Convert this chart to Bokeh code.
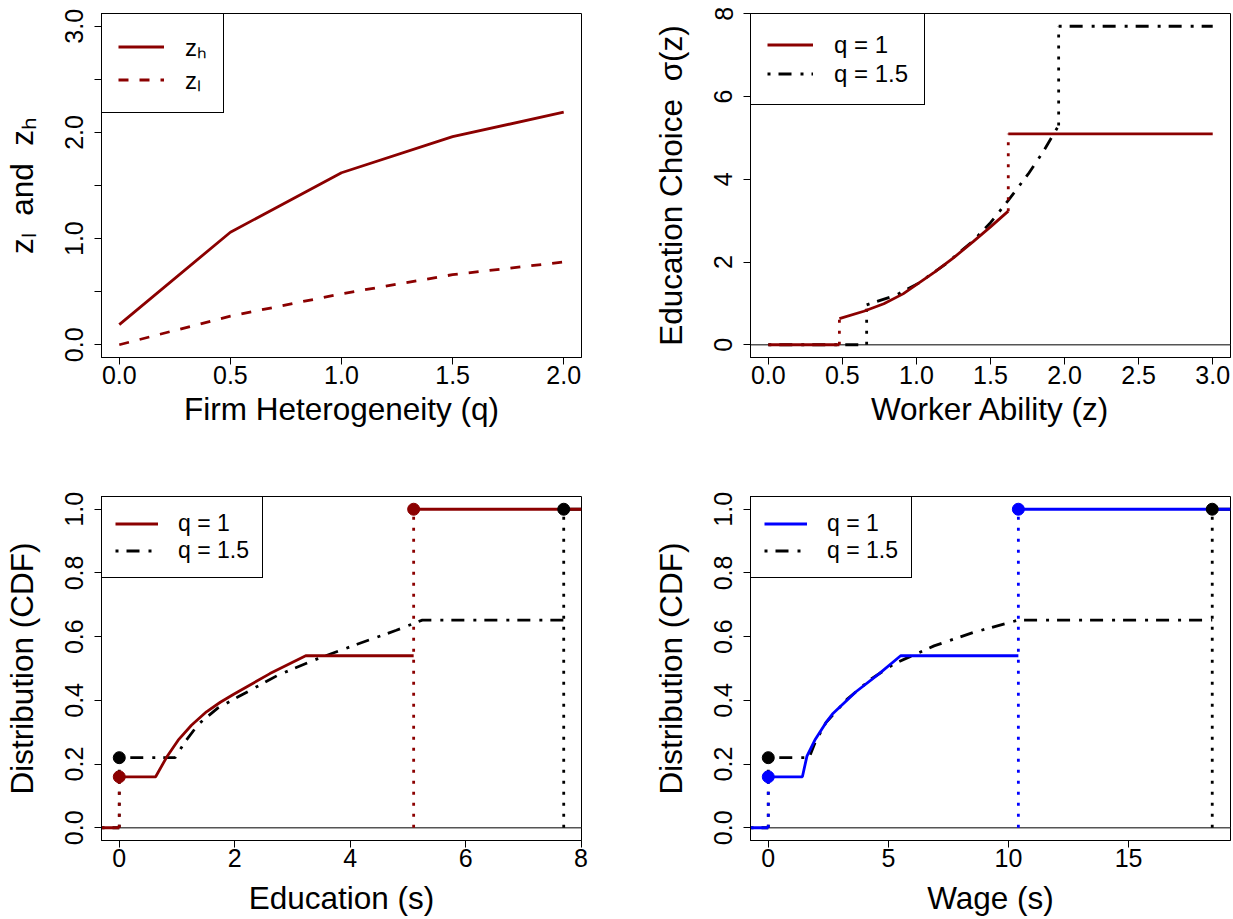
from bokeh.plotting import figure
from bokeh.models import Range1d, FixedTicker, Span, Legend, LegendItem, PrintfTickFormatter
from bokeh.layouts import column, row
from bokeh.embed import file_html
from bokeh.resources import INLINE

# ---------------- data ----------------
# Panel 1: thresholds vs firm heterogeneity
q_grid = [0.0, 0.5, 1.0, 1.5, 2.0]
z_high = [0.19, 1.06, 1.62, 1.96, 2.19]
z_low = [0.00, 0.27, 0.48, 0.66, 0.78]

# Panel 2: education choice sigma(z)
z_max = 3.0
zl_q1, zh_q1, smax_q1 = 0.48, 1.62, 5.10
zl_q15, zh_q15, smax_q15 = 0.664, 1.96, 7.70
sig_z_q1 = [0.48, 0.645, 0.78, 0.91, 1.12, 1.25, 1.385, 1.50, 1.62]
sig_s_q1 = [0.63, 0.81, 0.99, 1.23, 1.75, 2.10, 2.50, 2.85, 3.23]
sig_z_q15 = [0.664, 0.857, 1.015, 1.20, 1.385, 1.50, 1.62, 1.755, 1.86, 1.96]
sig_s_q15 = [0.966, 1.19, 1.49, 1.96, 2.52, 2.95, 3.49, 4.13, 4.69, 5.30]

# Panel 3: CDF of education
F0_q1, F0_q15 = 0.16, 0.22
edu_q1 = [0.63, 0.825, 1.02, 1.25, 1.51, 1.75, 1.99, 2.61, 3.23]
cdf_edu_q1 = [0.16, 0.223, 0.275, 0.322, 0.364, 0.394, 0.420, 0.484, 0.540]
edu_q15 = [0.966, 1.14, 1.37, 1.70, 2.06, 2.75, 3.44, 4.12, 4.80, 5.25]
cdf_edu_q15 = [0.22, 0.270, 0.325, 0.375, 0.411, 0.479, 0.531, 0.576, 0.620, 0.652]

# Panel 4: CDF of wages
wmax_q1, wmax_q15 = 10.41, 18.48
wage_q1 = [1.42, 1.61, 1.96, 2.40, 2.67, 3.65, 4.62, 5.51]
cdf_wage_q1 = [0.16, 0.225, 0.278, 0.330, 0.357, 0.427, 0.484, 0.540]
wage_q15 = [1.70, 1.96, 2.40, 3.30, 4.30, 5.27, 6.90, 8.53, 10.41]
cdf_wage_q15 = [0.22, 0.270, 0.330, 0.405, 0.468, 0.516, 0.571, 0.613, 0.652]

# ---------------- style ----------------
FONT = "Liberation Sans"
DARKRED = "#8B0000"
BLUE = "#0000FF"
BLACK = "#000000"
LW = 2.8
DOTDASH = "3 8 13 9"
DOTTED = "3 8"
DASHED = "10 11"
FW, FH = 480, 344
NB = "\u00a0"


def make_fig(xr, yr, ml, mr, mt, mb, xlab, ylab, xticks, xfmt, yticks, yfmt,
             x_title_standoff, yminor=None):
    p = figure(x_range=Range1d(*xr), y_range=Range1d(*yr), frame_width=FW, frame_height=FH,
               min_border_left=ml, min_border_right=mr, min_border_top=mt, min_border_bottom=mb,
               output_backend="svg", toolbar_location=None, title=None)
    p.xgrid.visible = False
    p.ygrid.visible = False
    p.outline_line_color = "black"
    p.outline_line_width = 1
    p.outline_line_alpha = 1
    p.background_fill_color = "white"
    p.border_fill_color = "white"
    for ax in (p.xaxis[0], p.yaxis[0]):
        ax.axis_line_color = "black"
        ax.major_tick_line_color = "black"
        ax.major_tick_out = 7
        ax.major_tick_in = 0
        ax.minor_tick_out = 7
        ax.minor_tick_in = 0
        ax.minor_tick_line_color = "black"
        ax.major_label_text_font = FONT
        ax.major_label_text_font_size = "25px"
        ax.major_label_text_color = "black"
        ax.axis_label_text_font = FONT
        ax.axis_label_text_font_size = "31.5px"
        ax.axis_label_text_font_style = "normal"
        ax.axis_label_text_color = "black"
    p.xaxis.ticker = FixedTicker(ticks=xticks, minor_ticks=[])
    p.xaxis.formatter = PrintfTickFormatter(format=xfmt)
    p.yaxis.ticker = FixedTicker(ticks=yticks, minor_ticks=yminor or [])
    p.yaxis.formatter = PrintfTickFormatter(format=yfmt)
    p.yaxis.major_label_orientation = "vertical"
    p.xaxis.major_label_standoff = 1
    p.yaxis.major_label_standoff = 11
    p.xaxis.axis_label_standoff = x_title_standoff
    p.yaxis.axis_label_standoff = 23
    p.xaxis.axis_label = xlab
    p.yaxis.axis_label = ylab
    return p


def add_legend(p, items, pad, glyph_w, standoff, fsize, h):
    leg = Legend(items=[LegendItem(label=lab, renderers=[r]) for lab, r in items],
                 location="top_left", margin=0, padding=pad, spacing=0,
                 glyph_width=glyph_w, glyph_height=h, label_height=h, label_standoff=standoff,
                 label_text_font=FONT, label_text_font_size=fsize, label_text_color="black",
                 border_line_color="black", border_line_width=1, border_line_alpha=1,
                 background_fill_color="white", background_fill_alpha=1)
    p.add_layout(leg)


def zero_line(p):
    p.add_layout(Span(location=0, dimension="width", line_color="#555555", line_width=1.3,
                      level="underlay"))


# ---------------- panel 1 ----------------
x1 = (-0.08, 2.08)
y1 = (-0.12, 3.12)
p1 = make_fig(x1, y1, 101, 67, 13, 113, "Firm Heterogeneity (q)",
              "zₗ" + NB + NB + "and" + NB + NB + "zₕ",
              [0, 0.5, 1.0, 1.5, 2.0], "%.1f", [0, 1, 2, 3], "%.1f", 4,
              yminor=[0.5, 1.5, 2.5])
r_zh = p1.line(q_grid, z_high, line_color=DARKRED, line_width=LW)
r_zl = p1.line(q_grid, z_low, line_color=DARKRED, line_width=LW, line_dash=DASHED)
add_legend(p1, [("zₕ", r_zh), ("zₗ", r_zl)], 16, 46, 21, "24px", 29)

# ---------------- panel 2 ----------------
x2 = (-0.12, 3.12)
y2 = (-0.308, 8.008)
p2 = make_fig(x2, y2, 102, 2, 13, 113, "Worker Ability (z)",
              "Education Choice" + NB + NB + "σ(z)",
              [0, 0.5, 1.0, 1.5, 2.0, 2.5, 3.0], "%.1f", [0, 2, 4, 6, 8], "%d", 4)
zero_line(p2)
# q = 1.5 (black)
p2.line([0, zl_q15], [0, 0], line_color=BLACK, line_width=LW, line_dash=DOTDASH)
p2.line([zl_q15, zl_q15], [0, sig_s_q15[0]], line_color=BLACK, line_width=LW, line_dash=DOTTED)
r2b = p2.line(sig_z_q15, sig_s_q15, line_color=BLACK, line_width=LW, line_dash=DOTDASH)
p2.line([zh_q15, zh_q15], [sig_s_q15[-1], smax_q15], line_color=BLACK, line_width=LW, line_dash=DOTTED)
p2.line([zh_q15, z_max], [smax_q15, smax_q15], line_color=BLACK, line_width=LW, line_dash=DOTDASH)
# q = 1 (dark red)
p2.line([0, zl_q1], [0, 0], line_color=DARKRED, line_width=LW)
p2.line([zl_q1, zl_q1], [0, sig_s_q1[0]], line_color=DARKRED, line_width=LW, line_dash=DOTTED)
r2r = p2.line(sig_z_q1, sig_s_q1, line_color=DARKRED, line_width=LW)
p2.line([zh_q1, zh_q1], [sig_s_q1[-1], smax_q1], line_color=DARKRED, line_width=LW, line_dash=DOTTED)
p2.line([zh_q1, z_max], [smax_q1, smax_q1], line_color=DARKRED, line_width=LW)
add_legend(p2, [("q = 1", r2r), ("q = 1.5", r2b)], 16, 46, 21, "24px", 29)


# ---------------- CDF panels ----------------
def cdf_panel(p, xr, F0_a, xs_a, Fs_a, top_a, col_a, F0_b, xs_b, Fs_b, top_b):
    lo, hi = xr
    # q = 1.5 (black)
    p.line([lo, 0], [0, 0], line_color=BLACK, line_width=LW, line_dash=DOTDASH)
    p.line([0, 0], [0, F0_b], line_color=BLACK, line_width=LW, line_dash=DOTTED)
    rb = p.line([0] + xs_b + [top_b], [F0_b] + Fs_b + [Fs_b[-1]], line_color=BLACK,
                line_width=LW, line_dash=DOTDASH)
    p.line([top_b, top_b], [0, 1], line_color=BLACK, line_width=LW, line_dash=DOTTED)
    p.line([top_b, hi], [1, 1], line_color=BLACK, line_width=LW)
    # q = 1 (coloured)
    p.line([lo, 0], [0, 0], line_color=col_a, line_width=LW)
    p.line([0, 0], [0, F0_a], line_color=col_a, line_width=LW, line_dash=DOTTED)
    ra = p.line([0] + xs_a + [top_a], [F0_a] + Fs_a + [Fs_a[-1]], line_color=col_a, line_width=LW)
    p.line([top_a, top_a], [0, 1], line_color=col_a, line_width=LW, line_dash=DOTTED)
    p.line([top_a, hi], [1, 1], line_color=col_a, line_width=LW)
    p.scatter([0, top_b], [F0_b, 1], size=12, color=BLACK)
    p.scatter([0, top_a], [F0_a, 1], size=12, color=col_a)
    return ra, rb


ycdf = (-0.04, 1.04)
cdf_ticks = [0, 0.2, 0.4, 0.6, 0.8, 1.0]

x3 = (-0.308, 8.008)
p3 = make_fig(x3, ycdf, 101, 67, 26, 78, "Education (s)", "Distribution (CDF)",
              [0, 2, 4, 6, 8], "%d", cdf_ticks, "%.1f", 10)
zero_line(p3)
ra3, rb3 = cdf_panel(p3, x3, F0_q1, edu_q1, cdf_edu_q1, smax_q1, DARKRED,
                     F0_q15, edu_q15, cdf_edu_q15, smax_q15)
add_legend(p3, [("q = 1", ra3), ("q = 1.5", rb3)], 13, 43, 20, "23px", 27)

x4 = (-0.74, 19.24)
p4 = make_fig(x4, ycdf, 102, 2, 26, 78, "Wage (s)", "Distribution (CDF)",
              [0, 5, 10, 15], "%d", cdf_ticks, "%.1f", 10)
zero_line(p4)
ra4, rb4 = cdf_panel(p4, x4, F0_q1, wage_q1, cdf_wage_q1, wmax_q1, BLUE,
                     F0_q15, wage_q15, cdf_wage_q15, wmax_q15)
add_legend(p4, [("q = 1", ra4), ("q = 1.5", rb4)], 13, 43, 20, "23px", 27)

layout = column(row(p1, p2, spacing=0), row(p3, p4, spacing=0), spacing=0)
open("out.html", "w").write(file_html(layout, INLINE))
